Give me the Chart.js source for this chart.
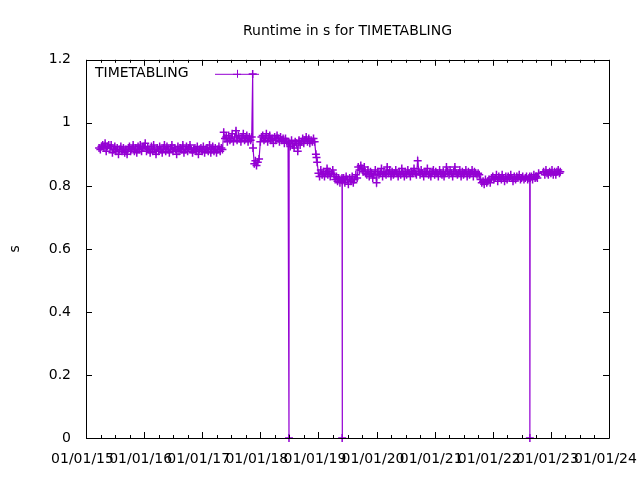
<!DOCTYPE html>
<html>
<head>
<meta charset="utf-8">
<script src="https://cdn.jsdelivr.net/npm/chart.js@4"></script>
<style>
  html, body { margin: 0; padding: 0; background: #fff; }
  #runtimeChart { display: block; }
</style>
</head>
<body>
<canvas id="runtimeChart" width="640" height="480"></canvas>
<script>
const chartTitle = 'Runtime in s for TIMETABLING';
const seriesName = 'TIMETABLING';
const yearTicks = [2015, 2016, 2017, 2018, 2019, 2020, 2021, 2022, 2023, 2024];
const yTicks = [0, 0.2, 0.4, 0.6, 0.8, 1, 1.2];

// one row per month
const runDates = [
    '2015-03-24',
    '2015-04-01', '2015-04-08', '2015-04-16', '2015-04-24',
    '2015-05-01', '2015-05-08', '2015-05-16', '2015-05-24',
    '2015-06-01', '2015-06-08', '2015-06-16', '2015-06-24',
    '2015-07-01', '2015-07-08', '2015-07-16', '2015-07-24',
    '2015-08-01', '2015-08-08', '2015-08-16', '2015-08-24',
    '2015-09-01', '2015-09-08', '2015-09-16', '2015-09-24',
    '2015-10-01', '2015-10-08', '2015-10-16', '2015-10-24',
    '2015-11-01', '2015-11-08', '2015-11-16', '2015-11-24',
    '2015-12-01', '2015-12-08', '2015-12-16', '2015-12-24',
    '2016-01-01', '2016-01-08', '2016-01-16', '2016-01-24',
    '2016-02-01', '2016-02-08', '2016-02-16', '2016-02-24',
    '2016-03-01', '2016-03-08', '2016-03-16', '2016-03-24',
    '2016-04-01', '2016-04-08', '2016-04-16', '2016-04-24',
    '2016-05-01', '2016-05-08', '2016-05-16', '2016-05-24',
    '2016-06-01', '2016-06-08', '2016-06-16', '2016-06-24',
    '2016-07-01', '2016-07-08', '2016-07-16', '2016-07-24',
    '2016-08-01', '2016-08-08', '2016-08-16', '2016-08-24',
    '2016-09-01', '2016-09-08', '2016-09-16', '2016-09-24',
    '2016-10-01', '2016-10-08', '2016-10-16', '2016-10-24',
    '2016-11-01', '2016-11-08', '2016-11-16', '2016-11-24',
    '2016-12-01', '2016-12-08', '2016-12-16', '2016-12-24',
    '2017-01-01', '2017-01-08', '2017-01-16', '2017-01-24',
    '2017-02-01', '2017-02-08', '2017-02-16', '2017-02-24',
    '2017-03-01', '2017-03-08', '2017-03-16', '2017-03-24',
    '2017-04-01', '2017-04-08', '2017-04-16', '2017-04-24',
    '2017-05-01', '2017-05-08', '2017-05-16', '2017-05-24',
    '2017-06-01', '2017-06-08', '2017-06-16', '2017-06-24',
    '2017-07-01', '2017-07-08', '2017-07-16', '2017-07-24',
    '2017-08-01', '2017-08-08', '2017-08-16', '2017-08-24',
    '2017-09-01', '2017-09-08', '2017-09-16', '2017-09-24',
    '2017-10-01', '2017-10-08', '2017-10-16', '2017-10-24',
    '2017-11-01', '2017-11-08', '2017-11-14', '2017-11-16', '2017-11-24',
    '2017-12-01', '2017-12-08', '2017-12-16', '2017-12-24',
    '2018-01-01', '2018-01-08', '2018-01-16', '2018-01-24',
    '2018-02-01', '2018-02-08', '2018-02-16', '2018-02-24',
    '2018-03-01', '2018-03-08', '2018-03-16', '2018-03-24',
    '2018-04-01', '2018-04-08', '2018-04-16', '2018-04-24',
    '2018-05-01', '2018-05-08', '2018-05-16', '2018-05-24',
    '2018-06-01', '2018-06-08', '2018-06-16', '2018-06-24', '2018-06-30',
    '2018-07-01', '2018-07-08', '2018-07-16', '2018-07-24',
    '2018-08-01', '2018-08-08', '2018-08-16', '2018-08-24',
    '2018-09-01', '2018-09-08', '2018-09-16', '2018-09-24',
    '2018-10-01', '2018-10-08', '2018-10-16', '2018-10-24',
    '2018-11-01', '2018-11-08', '2018-11-16', '2018-11-24',
    '2018-12-01', '2018-12-08', '2018-12-16', '2018-12-20', '2018-12-24',
    '2019-01-01', '2019-01-08', '2019-01-16', '2019-01-24',
    '2019-02-01', '2019-02-08', '2019-02-16', '2019-02-24',
    '2019-03-01', '2019-03-08', '2019-03-16', '2019-03-24',
    '2019-04-01', '2019-04-08', '2019-04-16', '2019-04-24',
    '2019-05-01', '2019-05-08', '2019-05-16', '2019-05-24', '2019-05-29', '2019-05-30',
    '2019-06-01', '2019-06-08', '2019-06-16', '2019-06-24',
    '2019-07-01', '2019-07-08', '2019-07-16', '2019-07-24',
    '2019-08-01', '2019-08-08', '2019-08-16', '2019-08-24',
    '2019-09-01', '2019-09-08', '2019-09-16', '2019-09-24',
    '2019-10-01', '2019-10-08', '2019-10-16', '2019-10-24',
    '2019-11-01', '2019-11-08', '2019-11-16', '2019-11-24',
    '2019-12-01', '2019-12-08', '2019-12-16', '2019-12-24',
    '2020-01-01', '2020-01-08', '2020-01-16', '2020-01-24',
    '2020-02-01', '2020-02-08', '2020-02-16', '2020-02-24',
    '2020-03-01', '2020-03-08', '2020-03-16', '2020-03-24',
    '2020-04-01', '2020-04-08', '2020-04-16', '2020-04-24',
    '2020-05-01', '2020-05-08', '2020-05-16', '2020-05-24',
    '2020-06-01', '2020-06-08', '2020-06-16', '2020-06-24',
    '2020-07-01', '2020-07-08', '2020-07-16', '2020-07-24',
    '2020-08-01', '2020-08-08', '2020-08-16', '2020-08-24',
    '2020-09-01', '2020-09-08', '2020-09-16', '2020-09-24',
    '2020-10-01', '2020-10-08', '2020-10-16', '2020-10-24',
    '2020-11-01', '2020-11-08', '2020-11-16', '2020-11-24',
    '2020-12-01', '2020-12-08', '2020-12-16', '2020-12-24',
    '2021-01-01', '2021-01-08', '2021-01-16', '2021-01-24',
    '2021-02-01', '2021-02-08', '2021-02-16', '2021-02-24',
    '2021-03-01', '2021-03-08', '2021-03-16', '2021-03-24',
    '2021-04-01', '2021-04-08', '2021-04-16', '2021-04-24',
    '2021-05-01', '2021-05-08', '2021-05-16', '2021-05-24',
    '2021-06-01', '2021-06-08', '2021-06-16', '2021-06-24',
    '2021-07-01', '2021-07-08', '2021-07-16', '2021-07-24',
    '2021-08-01', '2021-08-08', '2021-08-16', '2021-08-24',
    '2021-09-01', '2021-09-08', '2021-09-16', '2021-09-24',
    '2021-10-01', '2021-10-08', '2021-10-16', '2021-10-24',
    '2021-11-01', '2021-11-08', '2021-11-16', '2021-11-24',
    '2021-12-01', '2021-12-08', '2021-12-16', '2021-12-24',
    '2022-01-01', '2022-01-08', '2022-01-16', '2022-01-24',
    '2022-02-01', '2022-02-08', '2022-02-16', '2022-02-24',
    '2022-03-01', '2022-03-08', '2022-03-16', '2022-03-24',
    '2022-04-01', '2022-04-08', '2022-04-16', '2022-04-24',
    '2022-05-01', '2022-05-08', '2022-05-16', '2022-05-24',
    '2022-06-01', '2022-06-08', '2022-06-16', '2022-06-24',
    '2022-07-01', '2022-07-08', '2022-07-16', '2022-07-24',
    '2022-08-01', '2022-08-08', '2022-08-16', '2022-08-21', '2022-08-22', '2022-08-24',
    '2022-09-01', '2022-09-08', '2022-09-16', '2022-09-24',
    '2022-10-01', '2022-10-08', '2022-10-16',
    '2022-11-16', '2022-11-24',
    '2022-12-01', '2022-12-08', '2022-12-16', '2022-12-24',
    '2023-01-01', '2023-01-08', '2023-01-16', '2023-01-24',
    '2023-02-01', '2023-02-08', '2023-02-16', '2023-02-24',
    '2023-03-01'
];

const runtimes = [
    0.92,
    0.915, 0.925, 0.93, 0.92,
    0.935, 0.91, 0.925, 0.93,
    0.92, 0.93, 0.905, 0.915,
    0.925, 0.91, 0.92, 0.9,
    0.915, 0.925, 0.91, 0.92,
    0.905, 0.915, 0.9, 0.92,
    0.925, 0.91, 0.915, 0.93,
    0.91, 0.92, 0.905, 0.925,
    0.915, 0.93, 0.91, 0.92,
    0.925, 0.935, 0.91, 0.92,
    0.915, 0.905, 0.925, 0.91,
    0.93, 0.915, 0.9, 0.92,
    0.91, 0.925, 0.915, 0.905,
    0.92, 0.93, 0.91, 0.925,
    0.915, 0.905, 0.92, 0.93,
    0.91, 0.92, 0.915, 0.9,
    0.925, 0.91, 0.92, 0.915,
    0.93, 0.905, 0.915, 0.925,
    0.91, 0.92, 0.93, 0.915,
    0.905, 0.915, 0.92, 0.91,
    0.925, 0.9, 0.915, 0.92,
    0.91, 0.925, 0.905, 0.915,
    0.92, 0.91, 0.93, 0.905,
    0.915, 0.925, 0.91, 0.92,
    0.905, 0.915, 0.925, 0.91,
    0.92, 0.915, 0.97, 0.95,
    0.955, 0.94, 0.96, 0.945,
    0.95, 0.965, 0.94, 0.955,
    0.975, 0.945, 0.96, 0.95,
    0.94, 0.955, 0.965, 0.945,
    0.95, 0.96, 0.94, 0.955,
    0.945, 0.955, 1.155, 0.92, 0.87,
    0.88, 0.865, 0.875, 0.885,
    0.94, 0.955, 0.96, 0.945,
    0.95, 0.965, 0.94, 0.955,
    0.96, 0.945, 0.95, 0.935,
    0.955, 0.945, 0.96, 0.95,
    0.94, 0.955, 0.945, 0.95,
    0.935, 0.95, 0.94, 0.94, 0,
    0.935, 0.925, 0.945, 0.93,
    0.92, 0.94, 0.935, 0.91,
    0.945, 0.93, 0.94, 0.95,
    0.935, 0.945, 0.955, 0.94,
    0.95, 0.935, 0.945, 0.94,
    0.95, 0.94, 0.9, 0.89, 0.875,
    0.84, 0.83, 0.85, 0.835,
    0.845, 0.83, 0.84, 0.855,
    0.835, 0.845, 0.83, 0.84,
    0.85, 0.835, 0.82, 0.83,
    0.815, 0.825, 0.81, 0.82, 0.825, 0,
    0.815, 0.825, 0.81, 0.83,
    0.82, 0.805, 0.825, 0.815,
    0.83, 0.81, 0.82, 0.835,
    0.825, 0.86, 0.85, 0.865,
    0.855, 0.845, 0.86, 0.84,
    0.835, 0.85, 0.83, 0.845,
    0.84, 0.825, 0.835, 0.85,
    0.81, 0.845, 0.835, 0.84,
    0.855, 0.83, 0.845, 0.84,
    0.835, 0.86, 0.84, 0.85,
    0.83, 0.845, 0.835, 0.84,
    0.85, 0.84, 0.83, 0.845,
    0.835, 0.855, 0.84, 0.83,
    0.845, 0.835, 0.85, 0.84,
    0.83, 0.845, 0.84, 0.855,
    0.84, 0.835, 0.88, 0.845,
    0.835, 0.85, 0.84, 0.83,
    0.845, 0.84, 0.855, 0.835,
    0.84, 0.83, 0.845, 0.85,
    0.835, 0.845, 0.84, 0.83,
    0.85, 0.84, 0.835, 0.845,
    0.83, 0.84, 0.86, 0.845,
    0.835, 0.85, 0.84, 0.83,
    0.845, 0.86, 0.84, 0.835,
    0.84, 0.85, 0.83, 0.845,
    0.835, 0.84, 0.85, 0.83,
    0.845, 0.835, 0.84, 0.85,
    0.83, 0.845, 0.84, 0.835,
    0.84, 0.835, 0.82, 0.81,
    0.815, 0.805, 0.82, 0.81,
    0.815, 0.82, 0.81, 0.825,
    0.83, 0.82, 0.825, 0.835,
    0.815, 0.83, 0.825, 0.82,
    0.835, 0.825, 0.815, 0.83,
    0.82, 0.83, 0.825, 0.835,
    0.825, 0.815, 0.83, 0.82,
    0.83, 0.825, 0.835, 0.82,
    0.825, 0.83, 0.82, 0.825,
    0.83, 0.82, 0.825, 0.83, 0, 0.825,
    0.83, 0.82, 0.835, 0.825,
    0.83, 0.825, 0.84,
    0.845, 0.835,
    0.85, 0.84, 0.835, 0.845,
    0.84, 0.85, 0.835, 0.845,
    0.835, 0.845, 0.85, 0.84,
    0.845
];

const lineColor = '#9400d3';
const fontFamily = '"DejaVu Sans", sans-serif';

// date string -> fractional year, so the x axis can stay linear
function toYear(s) {
    const [y, m, d] = s.split('-').map(Number);
    const start = Date.UTC(y, 0, 1);
    const end = Date.UTC(y + 1, 0, 1);
    return y + (Date.UTC(y, m - 1, d) - start) / (end - start);
}

const points = runDates.map((d, i) => ({ x: toYear(d), y: runtimes[i] }));

// gnuplot style frame, inward ticks and key
const framePlugin = {
    id: 'frame',
    afterDraw(chart) {
        const { ctx, chartArea: a, scales } = chart;
        const xs = scales.x, ys = scales.y;
        ctx.save();
        ctx.strokeStyle = '#000';
        ctx.lineWidth = 1;
        ctx.beginPath();
        ctx.rect(Math.round(a.left) + 0.5, Math.round(a.top) + 0.5,
                 Math.round(a.right - a.left), Math.round(a.bottom - a.top));
        ctx.stroke();

        ctx.beginPath();
        yearTicks.forEach((yr, i) => {
            for (let q = 0; q < 4; q++) {
                if (q > 0 && i === yearTicks.length - 1) break;
                const px = Math.round(xs.getPixelForValue(yr + q / 4)) + 0.5;
                const len = q === 0 ? 6 : 3;
                ctx.moveTo(px, a.bottom); ctx.lineTo(px, a.bottom - len);
                ctx.moveTo(px, a.top); ctx.lineTo(px, a.top + len);
            }
        });
        yTicks.forEach(v => {
            const py = Math.round(ys.getPixelForValue(v)) + 0.5;
            ctx.moveTo(a.left, py); ctx.lineTo(a.left + 6, py);
            ctx.moveTo(a.right, py); ctx.lineTo(a.right - 6, py);
        });
        ctx.stroke();

        // key
        const ky = a.top + 14;
        ctx.fillStyle = '#000';
        ctx.font = '14px ' + fontFamily;
        ctx.textBaseline = 'middle';
        ctx.textAlign = 'left';
        ctx.fillText(seriesName, a.left + 9, ky);
        ctx.strokeStyle = lineColor;
        ctx.beginPath();
        ctx.moveTo(215, ky + 0.5); ctx.lineTo(259, ky + 0.5);
        ctx.moveTo(233, ky + 0.5); ctx.lineTo(241, ky + 0.5);
        ctx.moveTo(237.5, ky - 4); ctx.lineTo(237.5, ky + 4);
        ctx.stroke();
        ctx.restore();
    }
};

const ctx = document.getElementById('runtimeChart').getContext('2d');
const runtimeChart = new Chart(ctx, {
    type: 'line',
    data: {
        datasets: [{
            label: seriesName,
            data: points,
            borderColor: lineColor,
            backgroundColor: lineColor,
            borderWidth: 1.2,
            pointStyle: 'cross',
            pointRadius: 4,
            pointBorderWidth: 1.5,
            pointBorderColor: lineColor,
            tension: 0,
            fill: false,
            clip: false
        }]
    },
    options: {
        responsive: false,
        animation: false,
        devicePixelRatio: 1,
        layout: { padding: { left: 0, right: 31, top: 0, bottom: 0 } },
        plugins: {
            legend: { display: false },
            tooltip: { enabled: false },
            title: {
                display: true,
                fullSize: false,
                text: chartTitle,
                color: '#000',
                font: { family: fontFamily, size: 14, weight: 'normal' },
                padding: { top: 23, bottom: 20 }
            }
        },
        scales: {
            x: {
                type: 'linear',
                min: 2015,
                max: 2024,
                afterBuildTicks: s => { s.ticks = yearTicks.map(v => ({ value: v })); },
                afterFit: s => { s.height = 42; s.paddingLeft = 0; s.paddingRight = 0; },
                grid: { display: false, drawTicks: false },
                border: { display: false },
                ticks: {
                    autoSkip: false,
                    maxRotation: 0,
                    minRotation: 0,
                    padding: 13,
                    labelOffset: -3.5,
                    color: '#000',
                    font: { family: fontFamily, size: 14 },
                    callback: v => '01/01/' + String(v).slice(2)
                }
            },
            y: {
                min: 0,
                max: 1.2,
                afterBuildTicks: s => { s.ticks = yTicks.map(v => ({ value: v })); },
                afterFit: s => { s.width = 86; s.paddingTop = 0; s.paddingBottom = 0; },
                grid: { display: false, drawTicks: false },
                border: { display: false },
                title: {
                    display: true,
                    text: 's',
                    color: '#000',
                    font: { family: fontFamily, size: 14 },
                    padding: { top: 7, bottom: 0 }
                },
                ticks: {
                    padding: 15,
                    color: '#000',
                    font: { family: fontFamily, size: 14 },
                    callback: v => String(Math.round(v * 10) / 10)
                }
            }
        }
    },
    plugins: [framePlugin]
});
</script>
</body>
</html>
